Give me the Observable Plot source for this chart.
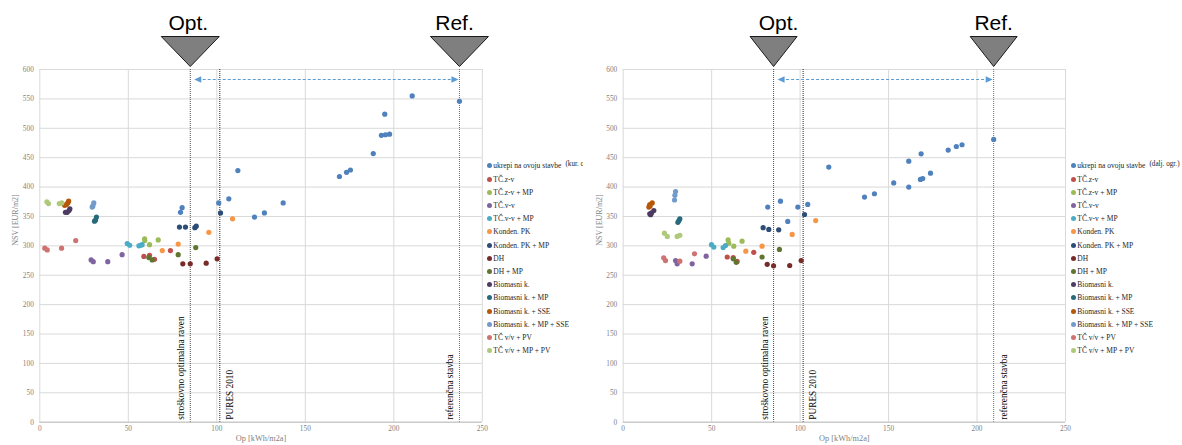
<!DOCTYPE html>
<html>
<head>
<meta charset="utf-8">
<script src="https://cdn.jsdelivr.net/npm/d3@7"></script>
<script src="https://cdn.jsdelivr.net/npm/@observablehq/plot@0.6"></script>
<style>
  body { margin: 0; background: #fff; }
  #row { display: flex; width: 1182px; height: 445px; overflow: hidden; }
  .panel { position: relative; height: 445px; overflow: hidden; flex: none; }
  .panel svg { display: block; }
  .legend { position: absolute; font-family: "Liberation Serif", serif; font-size: 7.5px; color: #262626; }
  .item { height: 13.2px; display: flex; align-items: center; white-space: nowrap; }
  .sw { width: 5px; height: 5px; border-radius: 50%; margin-right: 1.5px; flex: none; }
  .extra { margin-left: 4px; position: relative; top: -1.5px; font-size: 7.2px; }
</style>
</head>
<body>
<div id="row"></div>
<script>
// Series (measures / heating systems) and their colours
const seriesNames = [
  "ukrepi na ovoju stavbe", "TČ.z-v", "TČ.z-v + MP", "TČ.v-v", "TČ.v-v + MP",
  "Konden. PK", "Konden. PK + MP", "DH", "DH + MP", "Biomasni k.",
  "Biomasni k. + MP", "Biomasni k. + SSE", "Biomasni k. + MP + SSE",
  "TČ v/v + PV", "TČ v/v + MP + PV"
];
const seriesColors = [
  "#4F81BD", "#C0504D", "#9BBB59", "#8064A2", "#4BACC6",
  "#F79646", "#2C4D75", "#772C2A", "#5F7530", "#4D3B62",
  "#276A7C", "#B65708", "#729ACA", "#CD7371", "#AFC97A"
];

// Axis ticks
const xTicks = [0, 50, 100, 150, 200, 250];
const yTicks = [0, 50, 100, 150, 200, 250, 300, 350, 400, 450, 500, 550, 600];

// Reference levels (Op, kWh/m2a)
const optLevel = 85;
const puresLevel = 101.7;
const refLevelKur = 237.1;
const refLevelDalj = 209.4;
const arrowNsv = 583;

// Panel 1: [Op, NSV] per series (kur. olje)
const kurUkrepi = [[79.5,357],[80.4,365],[101.1,373],[106.8,380],[111.9,428],[121.3,349],[126.9,356],[137.5,373],[169.3,418],[173.3,425],[175.5,429],[188.4,457],[193.0,488],[195.3,489],[197.6,490],[194.9,524],[210.4,555],[237.1,546]];
const kurTczv = [[58.8,282],[62.0,284],[64.8,277],[73.8,292]];
const kurTczvMp = [[59.2,312],[59.3,309],[62.0,302],[66.9,310]];
const kurTcvv = [[29.0,276],[30.2,273],[38.4,273],[46.5,285]];
const kurTcvvMp = [[49.4,304],[50.8,301],[56.0,300],[57.0,301],[57.8,302]];
const kurKonden = [[69.2,292],[78.2,303],[95.5,323],[108.9,346]];
const kurKondenMp = [[78.9,332],[82.3,332],[87.6,331],[88.4,333.5],[102.1,356]];
const kurDh = [[80.8,269.5],[85.0,269.5],[94.0,270.5],[100.2,278]];
const kurDhMp = [[61.6,280],[63.5,276],[78.2,285],[88.1,297]];
const kurBio = [[14.5,357],[15.5,357],[16.5,360],[17.0,363]];
const kurBioMp = [[30.9,342],[31.5,344],[32.0,349]];
const kurBioSse = [[14.0,369],[15.0,370],[15.8,373],[16.3,376]];
const kurBioMpSse = [[29.6,366],[30.0,368],[30.5,373]];
const kurTcPv = [[2.8,296],[4.2,293],[12.3,296],[20.3,309]];
const kurTcMpPv = [[4.0,375],[4.9,372],[11.0,372],[12.4,373]];

// Panel 2: [Op, NSV] per series (dalj. ogr.)
const daljUkrepi = [[81.7,366],[88.9,376],[93.0,341.5],[98.7,366],[104.3,370.4],[116.2,434],[136.4,383],[142.0,388.6],[152.9,407],[161.4,444],[161.4,400],[168.4,456.6],[168.0,413],[169.3,414.6],[173.7,423.6],[183.7,463],[188.3,469],[191.5,472],[209.4,481]];
const daljTczv = [[58.8,281],[62.2,280],[64.4,273.5],[73.8,289]];
const daljTczvMp = [[59.3,310],[59.7,304.5],[62.5,299.5],[67.2,308]];
const daljTcvv = [[29.6,275],[30.5,269.5],[39.0,269.5],[46.9,282.5]];
const daljTcvvMp = [[49.9,302],[51.2,298],[56.5,297],[57.8,300.6]];
const daljKonden = [[69.3,291],[78.5,299.5],[95.5,319.5],[108.8,343]];
const daljKondenMp = [[79.1,331],[82.3,328],[87.9,327.2],[102.5,353.3]];
const daljDh = [[81.4,268.5],[85.0,266],[94.1,266.6],[100.6,275]];
const daljDhMp = [[62.2,278],[63.9,272],[78.5,281],[88.3,294]];
const daljBio = [[15.5,353],[15.0,354.5],[16.0,356],[17.3,360]];
const daljBioMp = [[30.9,340],[31.5,343],[32.0,346]];
const daljBioSse = [[14.5,366],[15.2,368],[15.0,370],[16.4,373]];
const daljBioMpSse = [[29.0,378],[29.2,386],[29.6,392.5]];
const daljTcPv = [[22.9,279.7],[23.9,275],[32.0,274],[40.3,286.5]];
const daljTcMpPv = [[23.3,321.5],[24.9,316],[30.5,316],[32.0,318]];

const kurSeries = [kurUkrepi, kurTczv, kurTczvMp, kurTcvv, kurTcvvMp, kurKonden, kurKondenMp, kurDh, kurDhMp, kurBio, kurBioMp, kurBioSse, kurBioMpSse, kurTcPv, kurTcMpPv];
const daljSeries = [daljUkrepi, daljTczv, daljTczvMp, daljTcvv, daljTcvvMp, daljKonden, daljKondenMp, daljDh, daljDhMp, daljBio, daljBioMp, daljBioSse, daljBioMpSse, daljTcPv, daljTcMpPv];

// Inverted marker triangle with its apex at the origin
const markerTriangle = (w) => ({
  draw(ctx) { ctx.moveTo(-w / 2, -30); ctx.lineTo(w / 2, -30); ctx.lineTo(0, 0); ctx.closePath(); }
});
// Arrowheads with the tip at the origin
const headLeft = { draw(ctx) { ctx.moveTo(0, 0); ctx.lineTo(7, -3.2); ctx.lineTo(7, 3.2); ctx.closePath(); } };
const headRight = { draw(ctx) { ctx.moveTo(0, 0); ctx.lineTo(-7, -3.2); ctx.lineTo(-7, 3.2); ctx.closePath(); } };

function drawPanel(cfg) {
  const points = seriesNames.flatMap((name, i) =>
    cfg.series[i].map(([op, nsv]) => ({ name, op, nsv })));
  const lineStyle = { stroke: "#4d4d4d", strokeDasharray: "1,1", strokeWidth: 1 };
  const serif = "Liberation Serif";

  const chart = Plot.plot({
    width: cfg.width,
    height: 445,
    marginLeft: cfg.ml,
    marginRight: cfg.width - cfg.ml - cfg.pw,
    marginTop: 69,
    marginBottom: 23.3,
    style: { fontFamily: serif, fontSize: "7.3px", color: "#7f7f7f", background: "white", overflow: "visible" },
    x: { domain: [0, 250], ticks: xTicks, tickSize: 0, tickPadding: 4, label: null, tickFormat: d => d },
    y: { domain: [0, 600], ticks: yTicks, tickSize: 0, tickPadding: 6, label: null, tickFormat: d => d },
    color: { domain: seriesNames, range: seriesColors },
    marks: [
      Plot.ruleX(xTicks, { stroke: "#d9d9d9", strokeWidth: 1 }),
      Plot.ruleY(yTicks, { stroke: "#d9d9d9", strokeWidth: 1 }),
      Plot.ruleY([0], { stroke: "#bfbfbf", strokeWidth: 1 }),
      // Reference levels
      Plot.ruleX([optLevel], lineStyle),
      Plot.ruleX([puresLevel], { ...lineStyle, stroke: "#262626" }),
      Plot.ruleX([cfg.ref], { ...lineStyle, stroke: "#6f6f6f" }),
      Plot.text(["stroškovno optimalna raven"], { text: d => d, x: () => optLevel, y: () => 0, rotate: -90, textAnchor: "start", dx: -9, dy: -2.5, fontSize: 9.3, fill: "black" }),
      Plot.text(["PURES 2010"], { text: d => d, x: () => puresLevel, y: () => 0, rotate: -90, textAnchor: "start", dx: 10, dy: -2.5, fontSize: 9.3, fill: "black" }),
      Plot.text(["referenčna stavba"], { text: d => d, x: () => cfg.ref, y: () => 0, rotate: -90, textAnchor: "start", dx: cfg.refDx, dy: -2.5, fontSize: 9.3, fill: "black" }),
      // Distance between reference and optimum
      Plot.ruleY([arrowNsv], { x1: () => optLevel, x2: () => cfg.ref, stroke: "#5B9BD5", strokeDasharray: "3,2", strokeWidth: 1, insetLeft: 8, insetRight: 4 }),
      Plot.dot([optLevel], { x: d => d, y: () => arrowNsv, symbol: headLeft, fill: "#5B9BD5", stroke: "none", dx: 4 }),
      Plot.dot([cfg.ref], { x: d => d, y: () => arrowNsv, symbol: headRight, fill: "#5B9BD5", stroke: "none", dx: -1 }),
      // Data points
      Plot.dot(points, { x: "op", y: "nsv", fill: "name", r: 2.6, stroke: "none" }),
      // Markers above the frame
      Plot.dot([optLevel, cfg.ref], { x: d => d, y: () => 600, symbol: markerTriangle(cfg.triW), fill: "#7f7f7f", stroke: "#1a1a1a", strokeWidth: 1, dy: -3 }),
      Plot.text(["Opt."], { text: d => d, x: () => optLevel, y: () => 600, dy: -46, dx: cfg.optTextDx, fontFamily: "Liberation Sans", fontSize: 21, fill: "black" }),
      Plot.text(["Ref."], { text: d => d, x: () => cfg.ref, y: () => 600, dy: -46, dx: cfg.refTextDx, fontFamily: "Liberation Sans", fontSize: 21, fill: "black" }),
      // Axis titles
      Plot.text(["NSV [EUR/m2]"], { text: d => d, frameAnchor: "left", dx: -24, rotate: -90, fontSize: 8, fill: "#7f7f7f" }),
      Plot.text(["Op [kWh/m2a]"], { text: d => d, frameAnchor: "bottom", dy: 19, fontSize: 8.3, fill: "#7f7f7f" })
    ]
  });

  const wrap = document.createElement("div");
  wrap.className = "panel";
  wrap.style.width = cfg.width + "px";
  wrap.appendChild(chart);

  const legend = document.createElement("div");
  legend.className = "legend";
  legend.style.left = cfg.legendLeft + "px";
  legend.style.top = "159.4px";
  seriesNames.forEach((name, i) => {
    const row = document.createElement("div");
    row.className = "item";
    const sw = document.createElement("span");
    sw.className = "sw";
    sw.style.background = seriesColors[i];
    const label = document.createElement("span");
    label.textContent = name;
    row.append(sw, label);
    if (i === 0) {
      const extra = document.createElement("span");
      extra.className = "extra";
      extra.textContent = cfg.extra;
      row.append(extra);
    }
    legend.appendChild(row);
  });
  wrap.appendChild(legend);
  document.getElementById("row").appendChild(wrap);
}

drawPanel({ series: kurSeries, width: 583, ml: 39.3, pw: 442.5, ref: refLevelKur, refDx: -9, triW: 58, optTextDx: -2, refTextDx: -5, legendLeft: 486.8, extra: "(kur. olje)" });
drawPanel({ series: daljSeries, width: 599, ml: 39.7, pw: 442.3, ref: refLevelDalj, refDx: 10, triW: 47, optTextDx: 5, refTextDx: 0, legendLeft: 487.8, extra: "(dalj. ogr.)" });
</script>
</body>
</html>
